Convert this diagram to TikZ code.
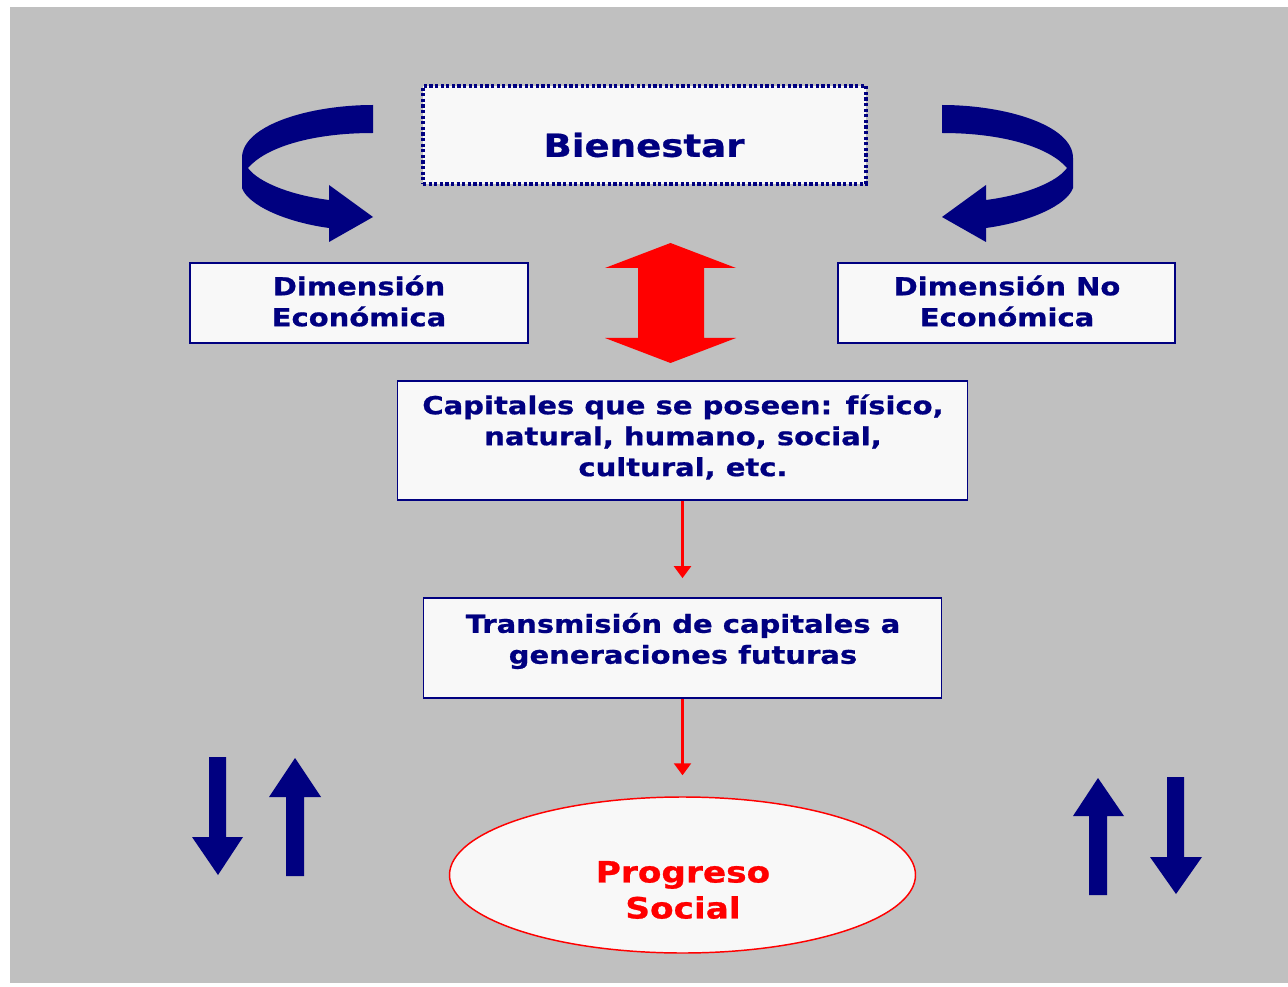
\documentclass[tikz,border=0pt]{standalone}
\usepackage{fontspec}
\newfontfamily\df{DejaVu Sans Bold}[FakeStretch=1.17, RawFeature={embolden=0.8}]
\usetikzlibrary{arrows.meta,shapes.geometric}
\definecolor{navyb}{RGB}{0,0,128}
\definecolor{bggray}{RGB}{192,192,192}
\definecolor{boxfill}{RGB}{248,248,248}
\definecolor{redc}{RGB}{255,0,0}
\begin{document}
\begin{tikzpicture}[x=0.75pt,y=-0.75pt,
  boxn/.style={draw=navyb, line width=1.2pt, fill=boxfill, inner sep=0pt},
  txt/.style={font=\df\fontsize{18.6}{23.2}\selectfont, text=navyb, align=center, inner sep=0pt},
  redarrow/.style={draw=redc, line width=1.8pt, -{Triangle[length=9pt,width=12.75pt]}},
  navyshape/.style={fill=navyb, draw=none},
  redshape/.style={fill=redc, draw=none}]
% background
\fill[white] (0,0) rectangle (1288,987);
\fill[bggray] (10,7) rectangle (1288,983);
\useasboundingbox (0,0) rectangle (1288,987);

% boxes
\node[boxn, draw=navyb, line width=2.4pt, dash pattern=on 2.4pt off 1.8pt,
      minimum width=332.25pt, minimum height=73.5pt] (bien) at (644.5,135) {};
\node[txt, font=\df\fontsize{23.8}{28}\selectfont] (bien-t) at (644,145) {Bienestar};

\node[boxn, minimum width=253.3pt, minimum height=60.2pt] (dimE) at (358.9,303) {};
\node[txt] (dimE-t) at (359,301) {Dimensión\\Económica};

\node[boxn, minimum width=253pt, minimum height=60pt] (dimNE) at (1006.4,303) {};
\node[txt] (dimNE-t) at (1007,301) {Dimensión No\\Económica};

\node[boxn, minimum width=427.5pt, minimum height=89.25pt] (cap) at (682.5,440.5) {};
\node[txt] (cap-t) at (683,437) {Capitales que se poseen: físico,\\natural, humano, social,\\cultural, etc.};

\node[boxn, minimum width=388.5pt, minimum height=75pt] (trans) at (682.5,648) {};
\node[txt] (trans-t) at (683,641) {Transmisión de capitales a\\generaciones futuras};

\node[ellipse, draw=redc, line width=1.1pt, fill=boxfill, inner sep=0pt,
      minimum width=349.5pt, minimum height=117pt] (prog) at (682.5,875) {};
\node[txt, text=redc, font=\df\fontsize{22}{27}\selectfont] (prog-t) at (683,890) {Progreso\\Social};

% red connectors
\draw[redarrow, shorten >=14.3pt] (cap.south) -- (trans.north);
\draw[redarrow, shorten >=15.75pt] (trans.south) -- (prog.north);

% red double arrow
\fill[redshape] (670.5,243) -- (736,268) -- (704,268) -- (704,338) -- (736,338)
  -- (670.5,363) -- (605,338) -- (638,338) -- (638,268) -- (605,268) -- cycle;

% curved arrows
\fill[navyshape] (373,105) .. controls (310,105) and (242,125) .. (242,158)
  -- (242,188) .. controls (248,205) and (285,222) .. (329,228)
  -- (329,242) -- (373,217) -- (329,185) -- (329,200)
  .. controls (290,195) and (258,182) .. (248,168)
  .. controls (265,148) and (310,133) .. (373,133) -- cycle;
\fill[navyshape] (942,105) .. controls (1005,105) and (1073,125) .. (1073,158)
  -- (1073,188) .. controls (1067,205) and (1030,222) .. (986,228)
  -- (986,242) -- (942,217) -- (986,185) -- (986,200)
  .. controls (1025,195) and (1057,182) .. (1067,168)
  .. controls (1050,148) and (1005,133) .. (942,133) -- cycle;

% straight arrows bottom left
\fill[navyshape] (209,757) -- (226,757) -- (226,837) -- (243,837) -- (218,875)
  -- (192,837) -- (209,837) -- cycle;
\fill[navyshape] (286,876) -- (304,876) -- (304,797) -- (321,797) -- (295,758)
  -- (269,797) -- (286,797) -- cycle;
% bottom right
\fill[navyshape] (1089,895) -- (1107,895) -- (1107,816) -- (1124,816) -- (1098,778)
  -- (1073,816) -- (1089,816) -- cycle;
\fill[navyshape] (1167,777) -- (1184,777) -- (1184,857) -- (1202,857) -- (1176,894)
  -- (1150,857) -- (1167,857) -- cycle;
\end{tikzpicture}
\end{document}
